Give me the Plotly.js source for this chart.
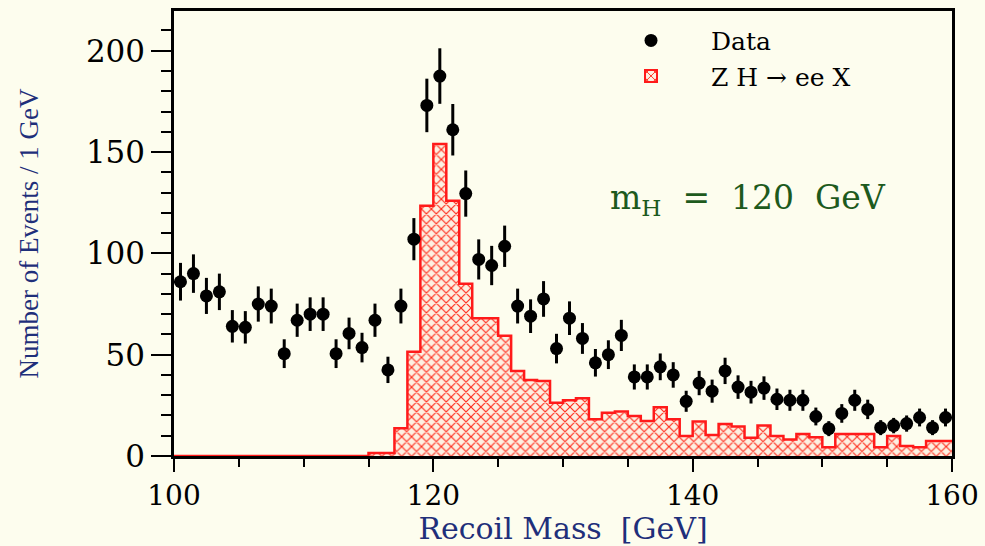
<!DOCTYPE html>
<html>
<head>
<meta charset="utf-8">
<script src="https://cdn.plot.ly/plotly-3.0.1.min.js"></script>
<style>html,body{margin:0;padding:0;background:#fdfdee;}</style>
</head>
<body>
<div id="chart" style="width:985px;height:546px;"></div>
<script>
// Data points (bin centres, GeV)
const dataMass = [100.5,101.5,102.5,103.5,104.5,105.5,106.5,107.5,108.5,109.5,
  110.5,111.5,112.5,113.5,114.5,115.5,116.5,117.5,118.5,119.5,
  120.5,121.5,122.5,123.5,124.5,125.5,126.5,127.5,128.5,129.5,
  130.5,131.5,132.5,133.5,134.5,135.5,136.5,137.5,138.5,139.5,
  140.5,141.5,142.5,143.5,144.5,145.5,146.5,147.5,148.5,149.5,
  150.5,151.5,152.5,153.5,154.5,155.5,156.5,157.5,158.5,159.5];
const dataEvents = [86,90,79,81,64,63.5,75,74,50.5,67,
  70,70,50.5,60.5,53.5,67,42.5,74,107,173,
  187.5,161,129.5,97,94,103.5,74,69,77.5,53,
  68,58,46,50,59.5,39,39,44,40,27,
  36,32,42,34,31.5,33.5,28,27.5,27.5,19.5,
  13.5,21,27.5,23,14,15,16,19,14,19];
const dataErr = [9.3,9.5,8.9,9.0,8.0,8.0,8.7,8.6,7.1,8.2,
  8.3,8.3,7.1,7.8,7.3,8.2,6.5,8.6,10.4,13.2,
  13.7,12.7,11.4,9.9,9.7,10.2,8.6,8.3,8.8,7.3,
  8.3,7.6,6.8,7.1,7.7,6.2,6.2,6.6,6.3,5.2,
  6.0,5.7,6.5,5.8,5.6,5.8,5.3,5.2,5.2,4.4,
  3.7,4.6,5.2,4.8,3.7,3.8,4.0,4.4,3.7,4.4];

// ZH -> ee X histogram: bin edges and contents
const binEdges = [100,101,102,103,104,105,106,107,108,109,
  110,111,112,113,114,115,116,117,118,119,
  120,121,122,123,124,125,126,127,128,129,
  130,131,132,133,134,135,136,137,138,139,
  140,141,142,143,144,145,146,147,148,149,
  150,151,152,153,154,155,156,157,158,159,160];
const zhCounts = [0,0,0,0,0,0,0,0,0,0,
  0,0,0,0,0,1.5,1.5,13.7,51.5,123.5,
  154,126,85,68,68,59.4,42,37.5,37,26.3,
  27.5,28.5,18.1,21.4,21.9,19.7,17.3,24,18.1,9.9,
  17,10.4,15.8,14.5,9,15,9.9,8.2,10.9,9.2,
  4.3,10.9,10.9,10.9,4.3,9.9,4.9,4.3,7.4,7.4];

const xTickVals = [100,120,140,160];
const yTickVals = [0,50,100,150,200];

const stepY = zhCounts.concat([zhCounts[zhCounts.length-1]]);

const bg = '#fdfdee';
const serif = 'DejaVu Serif, Liberation Serif, serif';
const hatch = {shape:'x', fgcolor:'#ff2a1a', bgcolor:'#fdf0e2', size:7, solidity:0.3};

const traces = [
  {
    type:'scatter', mode:'lines', name:'Z H \u2192 ee X',
    x: binEdges, y: stepY,
    line:{shape:'hv', color:'#ff1a1a', width:2.5},
    fill:'tozeroy',
    fillpattern:hatch,
    showlegend:false,
    hoverinfo:'skip'
  },
  {
    type:'bar', name:'Z H \u2192 ee X',
    x:[null], y:[null],
    marker:{color:'#fdf0e2', pattern:hatch, line:{color:'#ff1a1a', width:2}},
    legendrank:2
  },
  {
    type:'scatter', mode:'markers', name:'Data',
    x: dataMass, y: dataEvents,
    marker:{color:'#000', size:13, symbol:'circle'},
    error_y:{type:'data', array:dataErr, visible:true, color:'#000', thickness:3, width:0},
    legendrank:1
  }
];

const layout = {
  width:985, height:546,
  margin:{l:174, r:33, t:11, b:90},
  paper_bgcolor:bg, plot_bgcolor:bg,
  showlegend:true,
  legend:{x:0.536, xanchor:'left', y:0.985, yanchor:'top',
    font:{family:serif, size:25, color:'#000'}, bgcolor:'rgba(0,0,0,0)',
    itemwidth:110, tracegroupgap:4},
  xaxis:{
    range:[100,160], tickvals:xTickVals, ticktext:xTickVals.map(String),
    ticks:'outside', ticklen:13, tickwidth:2, tickcolor:'#000',
    minor:{dtick:5, tick0:100, ticks:'outside', ticklen:8, tickwidth:2, tickcolor:'#000'},
    showline:true, linecolor:'#000', linewidth:2.5, mirror:true,
    showgrid:false, zeroline:false,
    tickfont:{family:serif, size:28, color:'#000'},
    title:{text:'Recoil Mass  [GeV]', font:{family:serif, size:30, color:'#1f2f7a'}, standoff:14}
  },
  yaxis:{
    range:[0,219.6], tickvals:yTickVals, ticktext:yTickVals.map(String),
    ticks:'outside', ticklen:20, tickwidth:2, tickcolor:'#000',
    minor:{dtick:10, tick0:0, ticks:'outside', ticklen:10, tickwidth:2, tickcolor:'#000'},
    showline:true, linecolor:'#000', linewidth:2.5, mirror:true,
    showgrid:false, zeroline:false,
    tickfont:{family:serif, size:31, color:'#000'},
    title:{text:'Number of Events / 1 GeV', font:{family:'Liberation Serif, serif', size:27, color:'#1f2f7a'}, standoff:40}
  },
  annotations:[{
    xref:'x', yref:'y', x:144.3, y:126.5, xanchor:'center', yanchor:'middle',
    text:'m<sub>H</sub>\u00a0\u00a0=\u00a0\u00a0120\u00a0\u00a0GeV', showarrow:false,
    font:{family:serif, size:33, color:'#1d5a1d'}
  }]
};

Plotly.newPlot('chart', traces, layout, {displayModeBar:false});
</script>
</body>
</html>
